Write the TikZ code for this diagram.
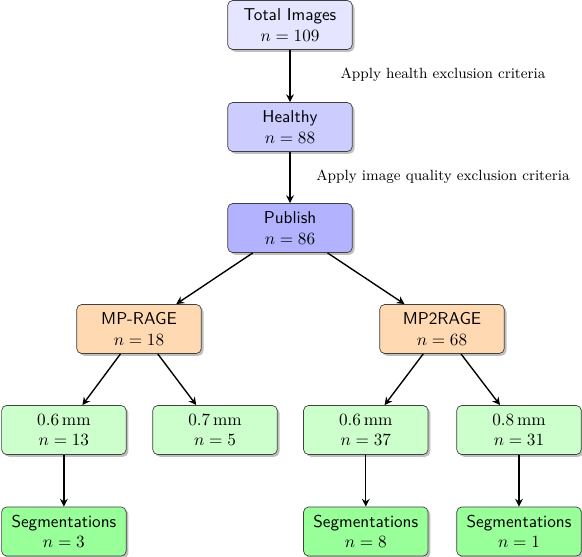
\documentclass[tikz,border=0pt]{standalone}
\usetikzlibrary{shadows,arrows.meta}
\begin{document}
\begin{tikzpicture}[x=0.582pt,y=-0.582pt,
  box/.style={draw=black!75, rounded corners=3pt, align=center,
    minimum width=72.5pt, minimum height=28.6pt, inner sep=1pt,
    font=\sffamily,
    drop shadow={shadow xshift=1.3pt,shadow yshift=-1.3pt,opacity=0.5}},
  arr/.style={-{Stealth[length=4.5pt,width=4.5pt,inset=1.5pt]}, thick},
  lbl/.style={font=\fontsize{8.6}{10}\selectfont}]
\useasboundingbox (0,0) rectangle (582,557);
\node[box, fill=blue!10] (total) at (290,25) {Total Images\\$n=109$};
\node[box, fill=blue!20] (healthy) at (290,127) {Healthy\\$n=88$};
\node[box, fill=blue!30] (publish) at (290,228) {Publish\\$n=86$};
\node[box, fill=orange!30] (mprage) at (139,329) {MP-RAGE\\$n=18$};
\node[box, fill=orange!30] (mp2rage) at (442,329) {MP2RAGE\\$n=68$};
\node[box, fill=green!20] (a06) at (63.9,430) {$0.6\,\mathrm{mm}$\\$n=13$};
\node[box, fill=green!20] (a07) at (215,430) {$0.7\,\mathrm{mm}$\\$n=5$};
\node[box, fill=green!20] (b06) at (365.8,430) {$0.6\,\mathrm{mm}$\\$n=37$};
\node[box, fill=green!20] (b08) at (519,430) {$0.8\,\mathrm{mm}$\\$n=31$};
\node[box, fill=green!40] (sa) at (63.9,531.5) {Segmentations\\$n=3$};
\node[box, fill=green!40] (sb) at (365.8,531.5) {Segmentations\\$n=8$};
\node[box, fill=green!40] (sc) at (519,531.5) {Segmentations\\$n=1$};
\node[lbl] (l1) at (443,75) {Apply health exclusion criteria};
\node[lbl] (l2) at (443,177) {Apply image quality exclusion criteria};
\draw[arr] (total) -- (healthy);
\draw[arr] (healthy) -- (publish);
\draw[arr] (publish) -- (mprage);
\draw[arr] (publish) -- (mp2rage);
\draw[arr] (mprage) -- (a06);
\draw[arr] (mprage) -- (a07);
\draw[arr] (mp2rage) -- (b06);
\draw[arr] (mp2rage) -- (b08);
\draw[arr] (a06) -- (sa);
\draw[arr] (b06) -- (sb);
\draw[arr] (b08) -- (sc);
\end{tikzpicture}
\end{document}
